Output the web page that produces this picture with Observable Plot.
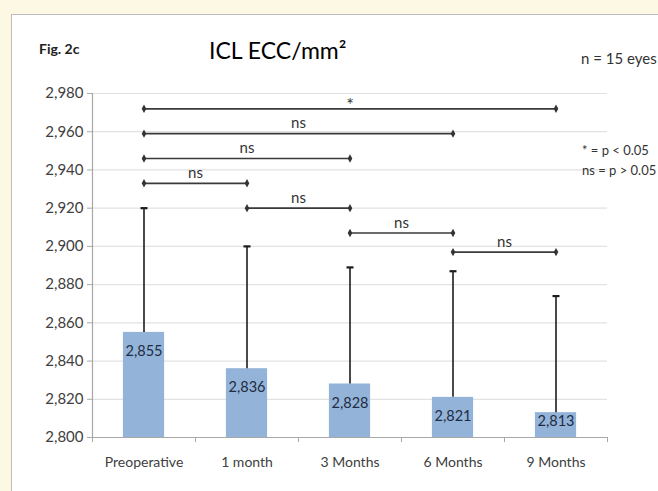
<!DOCTYPE html>
<html>
<head>
<meta charset="utf-8">
<script src="https://cdn.jsdelivr.net/npm/d3@7"></script>
<script src="https://cdn.jsdelivr.net/npm/@observablehq/plot@0.6"></script>
<style>
  html, body { margin: 0; padding: 0; width: 658px; height: 491px; overflow: hidden; background: #fdf8e3; font-family: Lato, sans-serif; }
  #panel { position: absolute; left: 11px; top: 14px; width: 720px; height: 560px; background: #fff; border: 1px solid #bcbcbc; }
  #chart { position: absolute; left: 0; top: 0; }
  .t { position: absolute; white-space: nowrap; line-height: 1; color: #222; }
</style>
</head>
<body>
<div id="panel"></div>
<div id="chart"></div>
<div class="t" style="left:39px; top:41.6px; font-size:14px; font-weight:700;">Fig. 2c</div>
<div class="t" style="left:209px; top:38.6px; font-size:23px; color:#000;">ICL ECC/mm²</div>
<div class="t" style="left:581px; top:50.7px; font-size:15px; color:#333;">n = 15 eyes</div>
<div class="t" style="left:582px; top:143.5px; font-size:13px; color:#333;">* = p &lt; 0.05</div>
<div class="t" style="left:582px; top:163.5px; font-size:13px; color:#333;">ns = p &gt; 0.05</div>
<script>
// Follow-up visits
const categories = ["Preoperative", "1 month", "3 Months", "6 Months", "9 Months"];
// Mean endothelial cell count (cells/mm²)
const means = [2855, 2836, 2828, 2821, 2813];
// Top of the error bar for each visit
const upper = [2920, 2900, 2889, 2887, 2874];
const yTicks = [2800, 2820, 2840, 2860, 2880, 2900, 2920, 2940, 2960, 2980];

// Pairwise comparisons drawn as brackets above the bars
const compFrom  = ["Preoperative", "Preoperative", "Preoperative", "Preoperative", "1 month", "3 Months", "6 Months"];
const compTo    = ["9 Months", "6 Months", "3 Months", "1 month", "3 Months", "6 Months", "9 Months"];
const compLevel = [2972, 2959, 2946, 2933, 2920, 2907, 2897];
const compLabel = ["*", "ns", "ns", "ns", "ns", "ns", "ns"];

const W = 658, H = 491;
const margin = {top: 93, right: 51, bottom: 54, left: 92};
const yMin = yTicks[0], yMax = yTicks[yTicks.length - 1];
const unitsPerPx = (yMax - yMin) / (H - margin.top - margin.bottom);

const idx = c => categories.indexOf(c);
const bars = categories.map((c, i) => ({c, i, mean: means[i], upper: upper[i]}));
const comps = compFrom.map((f, k) => ({
  a: idx(f) + 0.5, b: idx(compTo[k]) + 0.5, level: compLevel[k], label: compLabel[k]
}));
const starComps = comps.filter(d => d.label === "*");
const nsComps = comps.filter(d => d.label !== "*");

// Short bars push their value label down toward the base
const labelY = d => Math.max(d.mean - 19 * unitsPerPx, yMin + 16 * unitsPerPx);

// Horizontal cap for error bars
const capSymbol = {
  draw(ctx, size) {
    const r = Math.sqrt(size / Math.PI);
    ctx.moveTo(-r, 0);
    ctx.lineTo(r, 0);
  }
};
// Slim diamond for bracket ends
const diamond = {
  draw(ctx, size) {
    const r = Math.sqrt(size / Math.PI);
    ctx.moveTo(0, -r);
    ctx.lineTo(r * 0.55, 0);
    ctx.lineTo(0, r);
    ctx.lineTo(-r * 0.55, 0);
    ctx.closePath();
  }
};

const gridColor = "#e2e2e2";
const axisColor = "#a8a8a8";
const textColor = "#404040";

const chart = Plot.plot({
  width: W,
  height: H,
  marginTop: margin.top,
  marginRight: margin.right,
  marginBottom: margin.bottom,
  marginLeft: margin.left,
  style: {fontFamily: "Lato, sans-serif", background: "transparent", overflow: "visible"},
  x: {type: "linear", domain: [0, categories.length], label: null},
  y: {domain: [yMin, yMax], label: null},
  marks: [
    Plot.ruleY(yTicks, {stroke: gridColor, strokeWidth: 1.2}),
    Plot.rectY(bars, {x1: d => d.i + 0.3, x2: d => d.i + 0.7, y1: yMin, y2: "mean", fill: "#94b3d8"}),
    Plot.ruleX(bars, {x: d => d.i + 0.5, y1: "mean", y2: "upper", stroke: "#1c1c1c", strokeWidth: 1.6}),
    Plot.dot(bars, {x: d => d.i + 0.5, y: "upper", symbol: capSymbol, r: 3.5, stroke: "#1c1c1c", strokeWidth: 2.2, fill: "none"}),
    Plot.text(bars, {x: d => d.i + 0.5, y: labelY, text: d => d3.format(",")(d.mean), fontSize: 14.5, fill: "#1e2d45"}),
    Plot.ruleY(comps, {x1: "a", x2: "b", y: "level", stroke: "#3a3a3a", strokeWidth: 1.7}),
    Plot.dot(comps, {x: "a", y: "level", symbol: diamond, r: 4.2, fill: "#333", stroke: "none"}),
    Plot.dot(comps, {x: "b", y: "level", symbol: diamond, r: 4.2, fill: "#333", stroke: "none"}),
    Plot.text(nsComps, {x: d => (d.a + d.b) / 2, y: "level", text: "label", dy: -10, fontSize: 15, fill: "#333"}),
    Plot.text(starComps, {x: d => (d.a + d.b) / 2, y: "level", text: "label", dy: -4, fontSize: 18, fill: "#333"}),
    Plot.ruleX([0], {stroke: axisColor, strokeWidth: 1.2}),
    Plot.ruleY([yMin], {stroke: axisColor, strokeWidth: 1.2}),
    Plot.axisY({ticks: yTicks, tickFormat: d3.format(","), tickSize: 5, tickPadding: 4, fontSize: 15, stroke: axisColor, fill: textColor}),
    Plot.axisX({ticks: d3.range(categories.length + 1), tickFormat: () => "", tickSize: 5, stroke: axisColor}),
    Plot.axisX({ticks: categories.map((c, i) => i + 0.5), tickFormat: d => categories[Math.floor(d)], tickSize: 0, tickPadding: 20, fontSize: 14, fill: textColor})
  ]
});

document.getElementById("chart").appendChild(chart);
</script>
</body>
</html>
